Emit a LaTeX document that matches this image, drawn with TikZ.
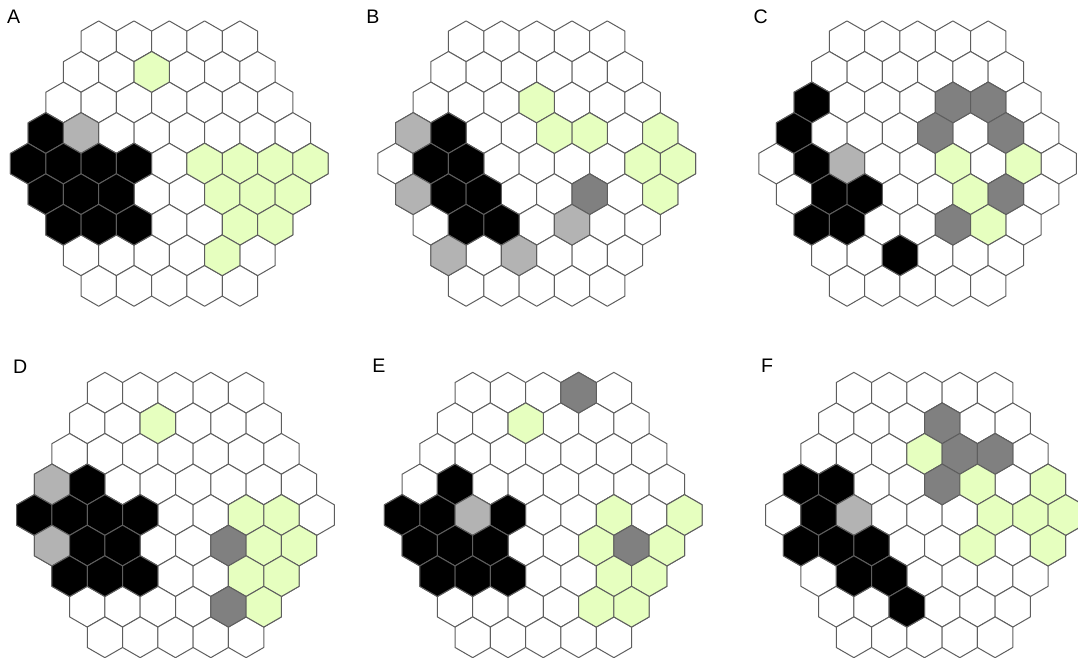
\documentclass[tikz,border=0pt]{standalone}
\usepackage{fontspec}
\setmainfont{Liberation Sans}
\usepackage{tikz}

\definecolor{lgray}{HTML}{B3B3B3}
\definecolor{dgray}{HTML}{808080}
\definecolor{lgreen}{HTML}{E6FFBF}
\definecolor{edgegray}{HTML}{5E5E5E}

\tikzset{
  cell/.style={draw=edgegray, line width=0.5pt, line join=round},
  panellabel/.style={font=\fontsize{9.8}{12}\selectfont, inner sep=0pt}
}

% one hexagon: row, position in row, fill
\newcommand{\hexcell}[3]{%
  \pgfmathsetmacro{\len}{9-abs(#1-4)}%
  \pgfmathsetmacro{\hx}{(#2-(\len-1)/2)*35.3}%
  \pgfmathsetmacro{\hy}{(#1-4)*30.57}%
  \draw[cell, fill=#3] (\hx,\hy) +(0,-20.38) -- +(17.65,-10.19) -- +(17.65,10.19)
    -- +(0,20.38) -- +(-17.65,10.19) -- +(-17.65,-10.19) -- cycle;}

% whole board: centre x, centre y, coloured cells
\newcommand{\hexpanel}[3]{%
  \begin{scope}[shift={(#1,#2)}]
    \foreach \r in {0,...,8} {
      \pgfmathtruncatemacro{\last}{8-abs(\r-4)}
      \foreach \c in {0,...,\last} {\hexcell{\r}{\c}{white}}
    }
    \foreach \r/\c/\f in {#3} {\hexcell{\r}{\c}{\f}}
  \end{scope}}

\begin{document}
\begin{tikzpicture}[x=0.5pt, y=-0.5pt]
\fill[white] (0,0) rectangle (1078,658);
\clip (0,0) rectangle (1078,658);

\hexpanel{169.3}{163.6}{1/2/lgreen, 3/0/black, 3/1/lgray,
  4/0/black, 4/1/black, 4/2/black, 4/3/black, 4/5/lgreen, 4/6/lgreen, 4/7/lgreen, 4/8/lgreen,
  5/0/black, 5/1/black, 5/2/black, 5/5/lgreen, 5/6/lgreen, 5/7/lgreen,
  6/0/black, 6/1/black, 6/2/black, 6/5/lgreen, 6/6/lgreen, 7/4/lgreen}
\hexpanel{536.7}{163.6}{2/3/lgreen, 3/0/lgray, 3/1/black, 3/4/lgreen, 3/5/lgreen, 3/7/lgreen,
  4/1/black, 4/2/black, 4/7/lgreen, 4/8/lgreen,
  5/0/lgray, 5/1/black, 5/2/black, 5/5/dgray, 5/7/lgreen,
  6/1/black, 6/2/black, 6/4/lgray, 7/0/lgray, 7/2/lgray}
\hexpanel{917.6}{163.6}{2/0/black, 2/4/dgray, 2/5/dgray, 3/0/black, 3/4/dgray, 3/6/dgray,
  4/1/black, 4/2/lgray, 4/5/lgreen, 4/7/lgreen,
  5/1/black, 5/2/black, 5/5/lgreen, 5/6/dgray,
  6/0/black, 6/1/black, 6/4/dgray, 6/5/lgreen, 7/2/black}
\hexpanel{175.5}{515}{1/2/lgreen, 3/0/lgray, 3/1/black,
  4/0/black, 4/1/black, 4/2/black, 4/3/black, 4/6/lgreen, 4/7/lgreen,
  5/0/lgray, 5/1/black, 5/2/black, 5/5/dgray, 5/6/lgreen, 5/7/lgreen,
  6/0/black, 6/1/black, 6/2/black, 6/5/lgreen, 6/6/lgreen, 7/4/dgray, 7/5/lgreen}
\hexpanel{543.3}{515}{0/3/dgray, 1/2/lgreen, 3/1/black,
  4/0/black, 4/1/black, 4/2/lgray, 4/3/black, 4/6/lgreen, 4/8/lgreen,
  5/0/black, 5/1/black, 5/2/black, 5/5/lgreen, 5/6/dgray, 5/7/lgreen,
  6/0/black, 6/1/black, 6/2/black, 6/5/lgreen, 6/6/lgreen, 7/4/lgreen, 7/5/lgreen}
\hexpanel{924.5}{515}{1/3/dgray, 2/3/lgreen, 2/4/dgray, 2/5/dgray,
  3/0/black, 3/1/black, 3/4/dgray, 3/5/lgreen, 3/7/lgreen,
  4/1/black, 4/2/lgray, 4/6/lgreen, 4/7/lgreen, 4/8/lgreen,
  5/0/black, 5/1/black, 5/2/black, 5/5/lgreen, 5/7/lgreen,
  6/1/black, 6/2/black, 7/2/black}

\node[panellabel] (labA) at (13.7,17) {A};
\node[panellabel] (labB) at (372.8,17) {B};
\node[panellabel] (labC) at (760.8,17) {C};
\node[panellabel] (labD) at (20.3,367) {D};
\node[panellabel] (labE) at (379,366) {E};
\node[panellabel] (labF) at (767,366) {F};
\end{tikzpicture}
\end{document}
